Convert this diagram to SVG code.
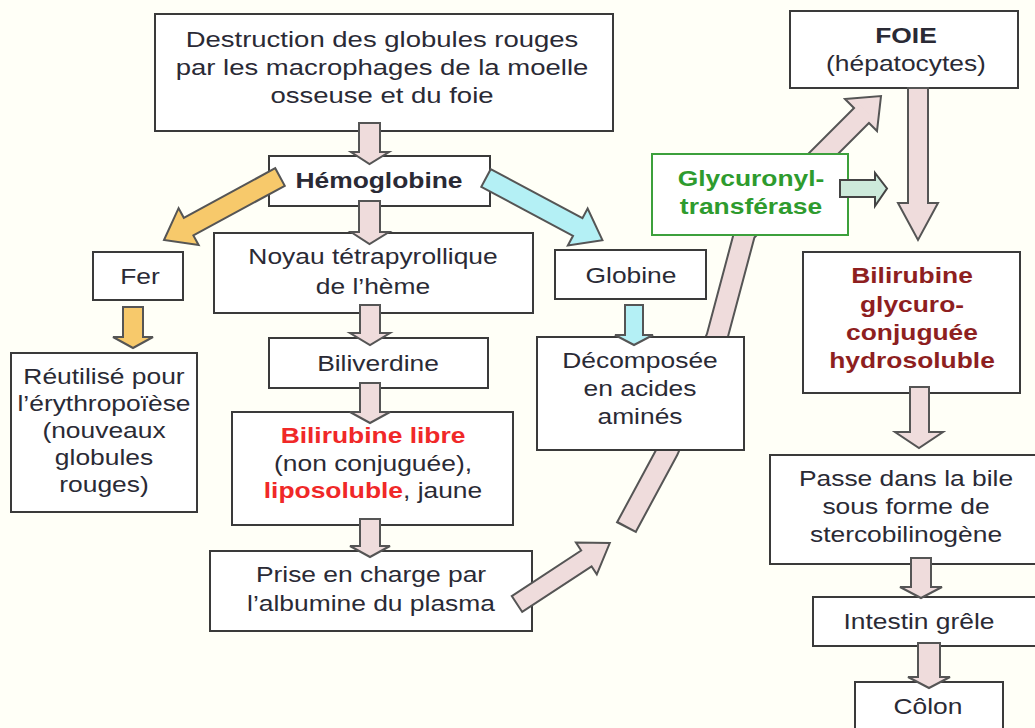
<svg xmlns="http://www.w3.org/2000/svg" width="1035" height="728" viewBox="0 0 1035 728">
<style>
.box{fill:#ffffff;stroke:#3a3a3a;stroke-width:2}
.t{font-family:"Liberation Sans",Arial,sans-serif;font-size:22px;fill:#2a2a35;text-anchor:middle}
.b{font-weight:bold}
.red{fill:#f02828;font-weight:bold}
.dred{fill:#8e1f1f;font-weight:bold}
.grn{fill:#2e9b2e;font-weight:bold}
.pk{fill:#efdcdc;stroke:#555555;stroke-width:2;stroke-linejoin:miter}
.ye{fill:#f7c96b;stroke:#555555;stroke-width:2}
.cy{fill:#b4f0f5;stroke:#555555;stroke-width:2}
.gr{fill:#cdeadb;stroke:#444444;stroke-width:2}
</style>
<rect x="0" y="0" width="1035" height="728" fill="#fffff7"/>

<g id="long-arrow">
  <polyline points="626,528 627,526 668,450 717,337 745,232 862,115" fill="none" stroke="#555555" stroke-width="23" stroke-linejoin="round"/>
  <polygon class="pk" points="845,99 881,96 877,131"/>
  <polyline points="627,526 668,450 717,337 745,232 866,111" fill="none" stroke="#efdcdc" stroke-width="19" stroke-linejoin="round"/>
</g>

<g id="n1"><rect class="box" x="155" y="14" width="458" height="117"/>
<text class="t" transform="translate(382 0) scale(1.25 1)"><tspan x="0" y="47">Destruction des globules rouges</tspan><tspan x="0" y="75">par les macrophages de la moelle</tspan><tspan x="0" y="103">osseuse et du foie</tspan></text></g>

<g id="n2"><rect class="box" x="269" y="156" width="221" height="50"/>
<text class="t b" transform="translate(379 0) scale(1.2 1)" x="0" y="188">Hémoglobine</text></g>

<g id="n3"><rect class="box" x="93" y="252" width="90" height="48"/>
<text class="t" transform="translate(140 0) scale(1.2 1)" x="0" y="284">Fer</text></g>

<g id="n4"><rect class="box" x="214" y="233" width="319" height="80"/>
<text class="t" transform="translate(373 0) scale(1.2 1)"><tspan x="0" y="264">Noyau tétrapyrollique</tspan><tspan x="0" y="294">de l’hème</tspan></text></g>

<g id="n5"><rect class="box" x="555" y="250" width="151" height="49"/>
<text class="t" transform="translate(631 0) scale(1.2 1)" x="0" y="283">Globine</text></g>

<g id="n6"><rect class="box" x="11" y="353" width="186" height="159"/>
<text class="t" transform="translate(104 0) scale(1.2 1)"><tspan x="0" y="384">Réutilisé pour</tspan><tspan x="0" y="411">l’érythropoïèse</tspan><tspan x="0" y="438">(nouveaux</tspan><tspan x="0" y="465">globules</tspan><tspan x="0" y="492">rouges)</tspan></text></g>

<g id="n7"><rect class="box" x="269" y="338" width="219" height="50"/>
<text class="t" transform="translate(378 0) scale(1.2 1)" x="0" y="371">Biliverdine</text></g>

<g id="n8"><rect class="box" x="537" y="337" width="207" height="113"/>
<text class="t" transform="translate(640 0) scale(1.2 1)"><tspan x="0" y="368">Décomposée</tspan><tspan x="0" y="396">en acides</tspan><tspan x="0" y="424">aminés</tspan></text></g>

<g id="n9"><rect class="box" x="232" y="412" width="281" height="113"/>
<text class="t" transform="translate(373 0) scale(1.2 1)"><tspan x="0" y="443" class="red">Bilirubine libre</tspan><tspan x="0" y="471">(non conjuguée),</tspan><tspan x="0" y="498"><tspan class="red">liposoluble</tspan>, jaune</tspan></text></g>

<g id="n10"><rect class="box" x="210" y="551" width="322" height="80"/>
<text class="t" transform="translate(371 0) scale(1.2 1)"><tspan x="0" y="582">Prise en charge par</tspan><tspan x="0" y="611">l’albumine du plasma</tspan></text></g>

<g id="n11"><rect class="box" x="790" y="11" width="228" height="77"/>
<text class="t" transform="translate(906 0) scale(1.2 1)"><tspan x="0" y="43" class="b">FOIE</tspan><tspan x="0" y="71">(hépatocytes)</tspan></text></g>

<g id="n12"><rect x="652" y="154" width="196" height="81" fill="#ffffff" stroke="#3ca03c" stroke-width="2"/>
<text class="t grn" transform="translate(751 0) scale(1.2 1)"><tspan x="0" y="186">Glycuronyl-</tspan><tspan x="0" y="214">transférase</tspan></text></g>

<g id="n13"><rect class="box" x="803" y="252" width="217" height="141"/>
<text class="t dred" transform="translate(912 0) scale(1.2 1)"><tspan x="0" y="283">Bilirubine</tspan><tspan x="0" y="312">glycuro-</tspan><tspan x="0" y="340">conjuguée</tspan><tspan x="0" y="368">hydrosoluble</tspan></text></g>

<g id="n14"><rect class="box" x="770" y="455" width="280" height="109"/>
<text class="t" transform="translate(906 0) scale(1.2 1)"><tspan x="0" y="486">Passe dans la bile</tspan><tspan x="0" y="514">sous forme de</tspan><tspan x="0" y="542">stercobilinogène</tspan></text></g>

<g id="n15"><rect class="box" x="813" y="597" width="230" height="49"/>
<text class="t" transform="translate(919 0) scale(1.2 1)" x="0" y="629">Intestin grêle</text></g>

<g id="n16"><rect class="box" x="855" y="682" width="148" height="60"/>
<text class="t" transform="translate(928 0) scale(1.2 1)" x="0" y="714">Côlon</text></g>

<g id="connectors">
  <polygon class="pk" points="359,123 380,123 380,152 389,152 369.5,164 351,152 359,152"/>
  <polygon class="pk" points="359,201 380,201 380,232 389,232 369.5,244 351,232 359,232"/>
  <polygon class="pk" points="360,305 380,305 380,333 390,333 370,345 350,333 360,333"/>
  <polygon class="pk" points="360,383 380,383 380,412 390,412 370,423 350,412 360,412"/>
  <polygon class="pk" points="360,519 380,519 380,546 390,546 370,557 350,546 360,546"/>
  <polygon class="ye" points="123,307 143,307 143,337 153,337 133,348 113,337 123,337"/>
  <polygon class="cy" points="625,305 643,305 643,335 653,335 634,345 615,335 625,335"/>
  <polygon class="pk" points="908,88 928,88 928,203 938,203 918,240 898,203 908,203"/>
  <polygon class="pk" points="910,387 929,387 929,432 943,432 919,448 895,432 910,432"/>
  <polygon class="pk" points="911,558 931,558 931,587 942,587 921,598 900,587 911,587"/>
  <polygon class="pk" points="918,643 940,643 940,677 950,677 929,688 908,677 918,677"/>
  <polygon class="ye" transform="translate(280 177) rotate(151.5)" points="0,-10 104,-10 104,-21 132,0 104,21 104,10 0,10"/>
  <polygon class="cy" transform="translate(486 178) rotate(28.1)" points="0,-10 104,-10 104,-21 132,0 104,21 104,10 0,10"/>
  <polygon class="pk" transform="translate(517 604) rotate(-33.3)" points="0,-9.5 83,-9.5 83,-19 111,0 83,19 83,9.5 0,9.5"/>
  <polygon class="gr" points="840,180 875,180 875,173 887,188.5 875,206 875,197 840,197"/>
</g>
</svg>
